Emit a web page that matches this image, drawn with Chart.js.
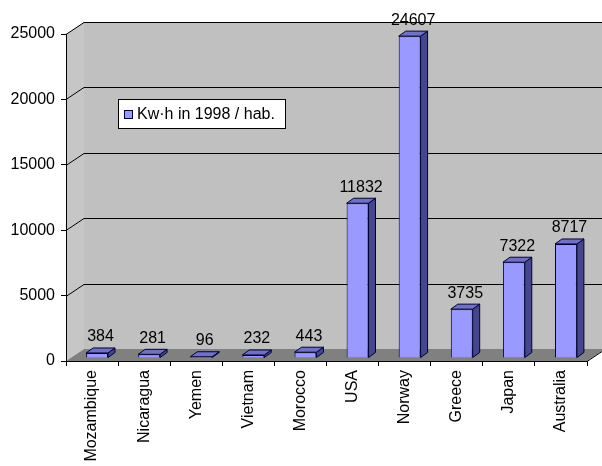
<!DOCTYPE html>
<html>
<head>
<meta charset="utf-8">
<script src="https://cdn.jsdelivr.net/npm/chart.js@4"></script>
<style>
html,body{margin:0;padding:0;background:#fff}
#wrap{width:602px;height:466px}
</style>
</head>
<body>
<div id="wrap"><canvas id="c" width="602" height="466"></canvas></div>
<script>
const countries = ['Mozambique', 'Nicaragua', 'Yemen', 'Vietnam', 'Morocco', 'USA', 'Norway', 'Greece', 'Japan', 'Australia']
const kwh = [384, 281, 96, 232, 443, 11832, 24607, 3735, 7322, 8717]
const yMin = 0
const yMax = 25000
const yStep = 5000
const seriesName = 'Kw·h in 1998 / hab.'

const FONT = "'Liberation Sans', Arial, sans-serif"
const DEPTH = {x:18, y:-12}   // back wall offset
const BAR_OFF = {x:5, y:-3}   // bar front face inside the depth
const BAR_D = {x:7, y:-5}     // bar depth

const poly = (ctx, pts, fill, stroke) => {
	ctx.beginPath()
	pts.forEach((p, i) => i ? ctx.lineTo(p[0], p[1]) : ctx.moveTo(p[0], p[1]))
	ctx.closePath()
	if (fill) { ctx.fillStyle = fill; ctx.fill() }
	if (stroke) { ctx.strokeStyle = stroke; ctx.lineWidth = 1; ctx.stroke() }
}

// gray walls, floor and grid lines behind everything
const walls = {
	id: 'walls',
	beforeDraw: c => {
		const ctx = c.ctx
		const {left, right, top, bottom} = c.chartArea
		const y = c.scales.y
		const dx = DEPTH.x, dy = DEPTH.y
		ctx.save()
		ctx.fillStyle = '#c0c0c0'
		ctx.fillRect(left + dx, top + dy, c.width - left - dx, bottom - top)
		poly(ctx, [[left, top], [left + dx, top + dy], [left + dx, bottom + dy], [left, bottom]], '#c6c6c6')
		poly(ctx, [[left, bottom], [right, bottom], [right + dx, bottom + dy], [left + dx, bottom + dy]], '#808080')
		ctx.strokeStyle = '#000'
		ctx.lineWidth = 1
		y.ticks.forEach(t => {
			if (t.value === yMin) return
			const py = Math.round(y.getPixelForValue(t.value)) + .5
			ctx.beginPath()
			ctx.moveTo(left, py)
			ctx.lineTo(left + dx, py + dy)
			ctx.lineTo(c.width, py + dy)
			ctx.stroke()
		})
		ctx.beginPath()
		ctx.moveTo(right, bottom + .5)
		ctx.lineTo(right + dx, bottom + dy + .5)
		ctx.stroke()
		ctx.restore()
	}
}

// shift the front faces, then add side + top faces and the value labels
const bars3d = {
	id: 'bars3d',
	beforeDatasetsDraw: c => {
		c.ctx.save()
		c.ctx.translate(BAR_OFF.x, BAR_OFF.y)
	},
	afterDatasetsDraw: c => {
		const ctx = c.ctx
		c.getDatasetMeta(0).data.forEach((b, i) => {
			const {x, y, base, width} = b.getProps(['x', 'y', 'base', 'width'], true)
			const l = x - width / 2, r = x + width / 2
			poly(ctx, [[r, y], [r + BAR_D.x, y + BAR_D.y], [r + BAR_D.x, base + BAR_D.y], [r, base]], '#46468f', '#000033')
			poly(ctx, [[l, y], [l + BAR_D.x, y + BAR_D.y], [r + BAR_D.x, y + BAR_D.y], [r, y]], '#7070c4', '#000033')
			ctx.fillStyle = '#000'
			ctx.font = `16px ${FONT}`
			ctx.textAlign = 'center'
			ctx.textBaseline = 'bottom'
			ctx.fillText(String(kwh[i]), x + BAR_D.x / 2, y + BAR_D.y - 3)
		})
		ctx.restore()
	},
	afterDraw: c => {
		const ctx = c.ctx
		ctx.save()
		ctx.fillStyle = '#fff'
		ctx.fillRect(118, 99, 168, 30)
		ctx.strokeStyle = '#000'
		ctx.lineWidth = 1
		ctx.strokeRect(118.5, 99.5, 167, 29)
		ctx.fillStyle = '#9999ff'
		ctx.fillRect(124, 110, 9, 9)
		ctx.strokeStyle = '#000033'
		ctx.strokeRect(124.5, 110.5, 8, 8)
		ctx.fillStyle = '#000'
		ctx.font = `16px ${FONT}`
		ctx.textBaseline = 'middle'
		ctx.fillText(seriesName, 137, 115)
		ctx.restore()
	}
}

new Chart(document.getElementById('c'), {
	type: 'bar',
	plugins: [walls, bars3d],
	data: {
		labels: countries,
		datasets: [{
			label: seriesName,
			data: kwh,
			backgroundColor: '#9999ff',
			borderColor: '#000033',
			borderWidth: 1,
			categoryPercentage: 1,
			barPercentage: 0.42,
			clip: false,
		}]
	},
	options: {
		responsive: false,
		devicePixelRatio: 1,
		animation: false,
		layout: { padding: {top: 34, right: 15, left: 0, bottom: 0} },
		plugins: {
			legend: { display: false },
			tooltip: { enabled: false },
		},
		scales: {
			x: {
				afterFit: s => { s.height = 105 },
				grid: { offset: true, drawOnChartArea: false, color: '#000', tickLength: 5 },
				border: { display: true, color: '#000' },
				ticks: { color: '#000', font: {family: FONT, size: 16}, minRotation: 90, maxRotation: 90, padding: 4, autoSkip: false },
			},
			y: {
				min: yMin,
				max: yMax,
				afterFit: s => { s.width = 66 },
				grid: { drawOnChartArea: false, color: '#000', tickLength: 5 },
				border: { display: true, color: '#000' },
				ticks: { stepSize: yStep, color: '#000', font: {family: FONT, size: 16}, padding: 6, callback: v => String(v) },
			}
		}
	}
})
</script>
</body>
</html>
